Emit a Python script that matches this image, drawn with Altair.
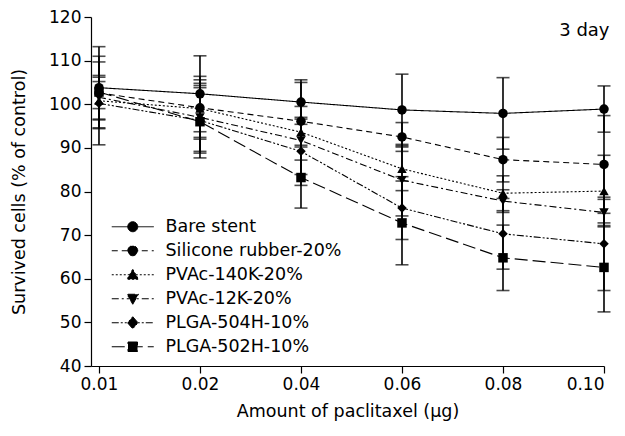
import json
import altair as alt
import pandas as pd

doses = ["0.01", "0.02", "0.04", "0.06", "0.08", "0.10"]
series_names = ["Bare stent", "Silicone rubber-20%", "PVAc-140K-20%",
                "PVAc-12K-20%", "PLGA-504H-10%", "PLGA-502H-10%"]

bare_mean = [103.8, 102.4, 100.5, 98.7, 97.9, 98.9]
silicone_mean = [102.6, 99.2, 96.1, 92.5, 87.3, 86.2]
pvac140_mean = [100.8, 99.0, 93.6, 85.2, 79.6, 80.1]
pvac12_mean = [101.6, 97.0, 91.7, 82.6, 77.8, 75.2]
plga504_mean = [100.2, 96.3, 89.2, 76.2, 70.3, 68.0]
plga502_mean = [102.8, 96.0, 83.2, 72.8, 64.8, 62.6]

bare_err = [9.4, 8.7, 5.1, 8.2, 8.2, 5.3]
silicone_err = [3.6, 7.2, 8.9, 3.3, 5.1, 11.2]
pvac140_err = [4.4, 6.6, 3.0, 5.0, 4.0, 8.2]
pvac12_err = [5.0, 7.8, 7.8, 8.2, 2.6, 3.0]
plga504_err = [9.5, 7.5, 7.8, 7.2, 8.1, 10.7]
plga502_err = [8.2, 8.3, 7.0, 9.6, 7.5, 10.2]

all_means = [bare_mean, silicone_mean, pvac140_mean, pvac12_mean, plga504_mean, plga502_mean]
all_errs = [bare_err, silicone_err, pvac140_err, pvac12_err, plga504_err, plga502_err]

rows = []
for name, means, errs in zip(series_names, all_means, all_errs):
    for i, (m, e) in enumerate(zip(means, errs)):
        rows.append({"series": name, "xi": i, "mean": m, "lo": m - e, "hi": m + e})
df = pd.DataFrame(rows)

FONT = "DejaVu Sans"
dashes = [[1, 0], [6, 4], [2, 2], [7, 3, 2, 3], [7, 2, 2, 2, 2, 2], [13, 5]]
shapes = ["circle", "circle", "triangle-up", "triangle-down", "diamond", "square"]
line_part = "M-4.2,0H4.2"
legend_paths = [
    line_part + "M-1,0A1,1 0 1,1 1,0A1,1 0 1,1 -1,0Z",
    line_part + "M-1,0A1,1 0 1,1 1,0A1,1 0 1,1 -1,0Z",
    line_part + "M0,-1.1L1.15,0.9L-1.15,0.9Z",
    line_part + "M0,1.1L1.15,-0.9L-1.15,-0.9Z",
    line_part + "M0,-1.2L1.05,0L0,1.2L-1.05,0Z",
    line_part + "M-0.95,-0.95H0.95V0.95H-0.95Z",
]

label_expr = "%s[datum.value]" % json.dumps(doses)
x_enc = alt.X("xi:Q",
              scale=alt.Scale(domain=[-0.079, 5], nice=False, zero=False),
              axis=alt.Axis(values=list(range(6)), labelExpr=label_expr,
                            title="Amount of paclitaxel (\u03bcg)"))
y_scale = alt.Scale(domain=[40, 120], nice=False, zero=False)
y_axis = alt.Axis(values=list(range(40, 121, 10)), title="Survived cells (% of control)")

base = alt.Chart(df)

err_rule = base.mark_rule(color="black", strokeWidth=1.6).encode(
    x=x_enc,
    y=alt.Y("lo:Q", scale=y_scale, axis=y_axis),
    y2="hi:Q",
)

caps = base.transform_fold(["lo", "hi"], as_=["end", "val"]).mark_tick(
    color="black", thickness=1.6, size=13, orient="horizontal"
).encode(
    x=x_enc,
    y=alt.Y("val:Q", scale=y_scale, axis=y_axis),
)

lines = base.mark_line(color="black", strokeWidth=1.1).encode(
    x=x_enc,
    y=alt.Y("mean:Q", scale=y_scale, axis=y_axis),
    detail="series:N",
    strokeDash=alt.StrokeDash("series:N", scale=alt.Scale(domain=series_names, range=dashes), legend=None),
)

markers = base.mark_point(filled=True, color="black", size=90, opacity=1).encode(
    x=x_enc,
    y=alt.Y("mean:Q", scale=y_scale, axis=y_axis),
    shape=alt.Shape("series:N", scale=alt.Scale(domain=series_names, range=shapes), legend=None),
)

leg = alt.Legend(
    title=None, orient="none", legendX=33, legendY=201,
    labelFont=FONT, labelFontSize=17.5, labelColor="black", labelLimit=0,
    labelOffset=24, rowPadding=5.0, symbolSize=100, symbolStrokeWidth=1,
    padding=0,
)

legend_layer = base.transform_filter("false").mark_point(
    filled=False, fill="black", stroke="black", strokeWidth=1, size=100, opacity=1
).encode(
    x=x_enc,
    y=alt.Y("mean:Q", scale=y_scale, axis=y_axis),
    shape=alt.Shape("series:N", scale=alt.Scale(domain=series_names, range=legend_paths), legend=leg),
    strokeDash=alt.StrokeDash("series:N", scale=alt.Scale(domain=series_names, range=dashes), legend=leg),
)

chart = alt.layer(err_rule, caps, lines, markers, legend_layer).resolve_scale(
    shape="independent", strokeDash="independent"
).properties(
    width=513, height=349,
    autosize=alt.AutoSizeParams(type="none"),
    padding={"left": 83, "top": 9, "right": 13, "bottom": 62},
    title=alt.TitleParams("3 day", anchor="end", orient="top", offset=-46, dx=-1,
                          font=FONT, fontSize=18, fontWeight="normal", color="black",
                          baseline="alphabetic"),
).configure_view(stroke=None).configure_axis(
    grid=False, domainColor="black", tickColor="black", labelColor="black", titleColor="black",
    domainWidth=1.2, tickWidth=1.2, tickSize=7,
    labelFont=FONT, labelFontSize=17, titleFont=FONT, titleFontSize=17.5,
    titleFontWeight="normal",
).configure_axisX(labelPadding=3, titlePadding=10).configure_axisY(labelPadding=3, titlePadding=20)

chart.save("out.html", embed_options={"renderer": "svg", "actions": False})
